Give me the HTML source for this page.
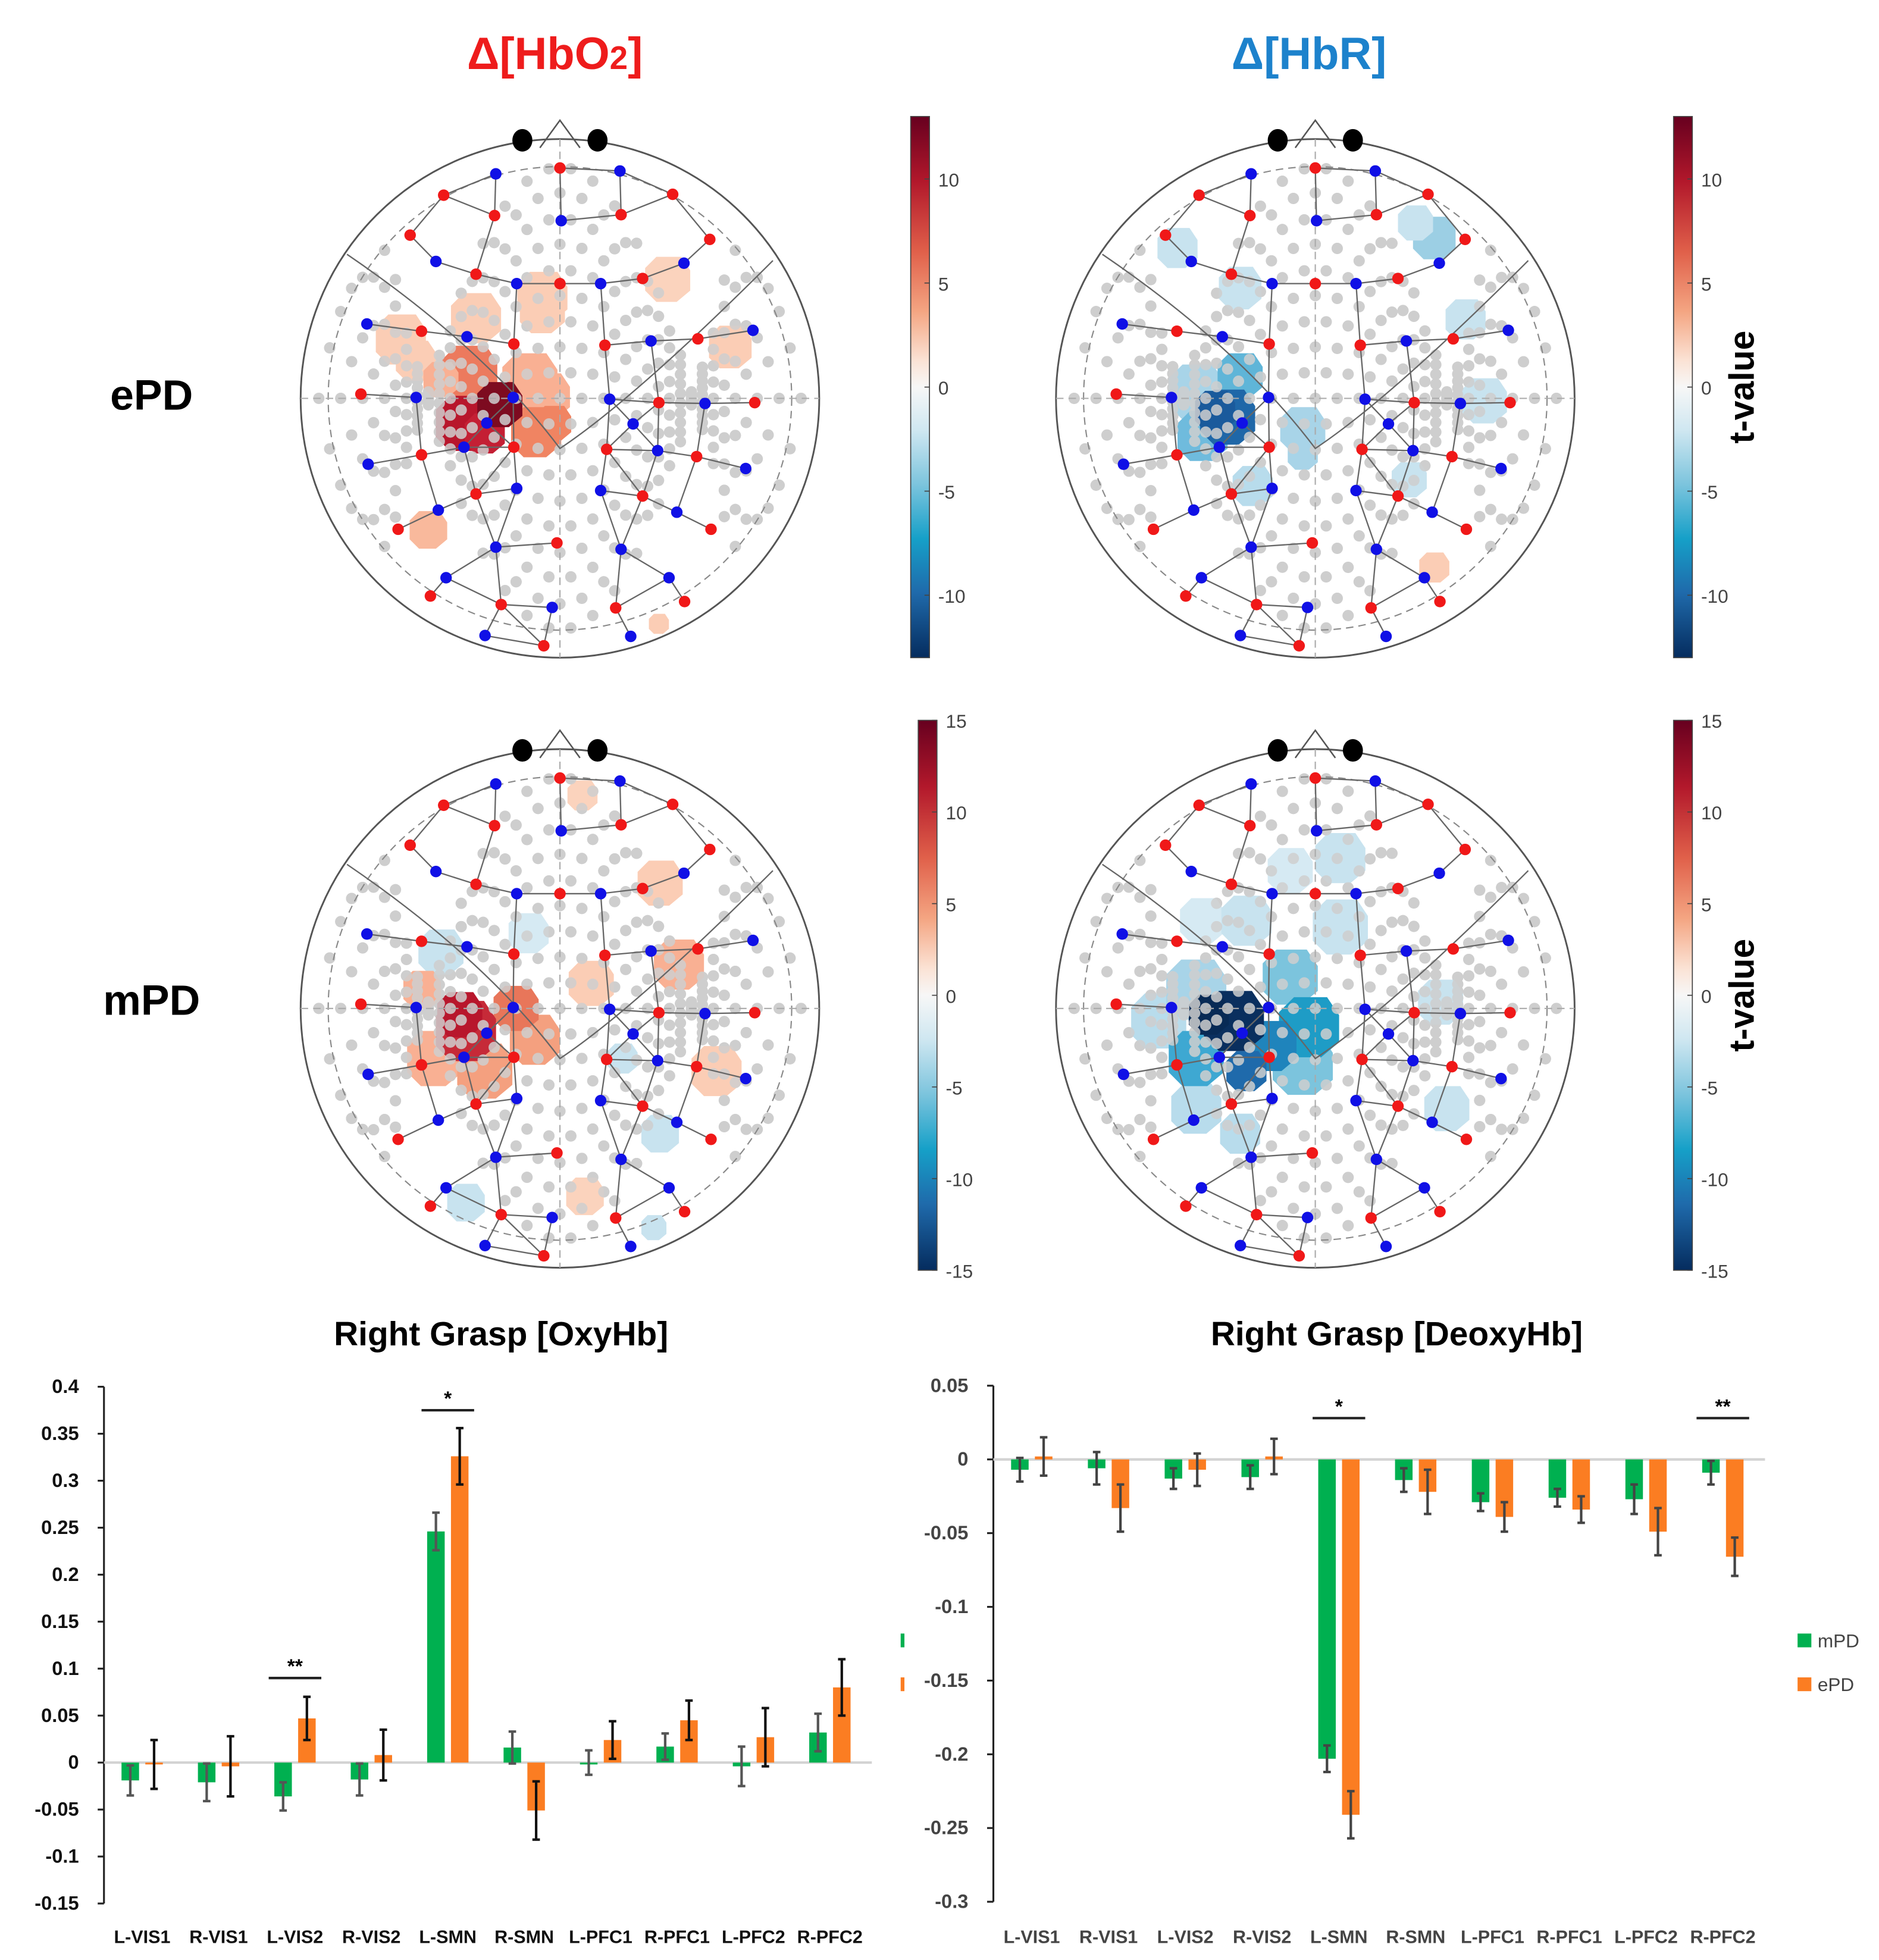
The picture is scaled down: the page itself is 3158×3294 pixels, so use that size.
<!DOCTYPE html>
<html><head><meta charset="utf-8">
<style>
html,body{margin:0;padding:0;background:#fff;}
svg{display:block;}
text{font-family:"Liberation Sans",sans-serif;}
</style></head>
<body>
<svg id="root" xmlns="http://www.w3.org/2000/svg" width="3158" height="3294" viewBox="0 0 1500 1564.6">
<defs>
<linearGradient id="cbar" x1="0" y1="0" x2="0" y2="1">
<stop offset="0" stop-color="#67001f"/>
<stop offset="0.12" stop-color="#b2182b"/>
<stop offset="0.25" stop-color="#e0604a"/>
<stop offset="0.36" stop-color="#f4a582"/>
<stop offset="0.45" stop-color="#fbe2d4"/>
<stop offset="0.5" stop-color="#f7f7f7"/>
<stop offset="0.58" stop-color="#cfe7f1"/>
<stop offset="0.68" stop-color="#7cc4dd"/>
<stop offset="0.78" stop-color="#16a0c8"/>
<stop offset="0.88" stop-color="#1f6aab"/>
<stop offset="1" stop-color="#052c5e"/>
</linearGradient>
</defs>
<text x="443" y="55" text-anchor="middle" font-size="36" font-weight="bold" fill="#ee1c1c">Δ[HbO<tspan font-size="26" dy="0">2</tspan>]</text>
<text x="1045" y="55" text-anchor="middle" font-size="36" font-weight="bold" fill="#1d82cc">Δ[HbR]</text>
<text x="121" y="327" text-anchor="middle" font-size="34" font-weight="bold">ePD</text>
<text x="121" y="810" text-anchor="middle" font-size="34" font-weight="bold">mPD</text>
<g id="maps"></g>
<g id="bars"></g>
</svg>
<script>
// ---------- chart data ----------
const categories = ["L-VIS1","R-VIS1","L-VIS2","R-VIS2","L-SMN","R-SMN","L-PFC1","R-PFC1","L-PFC2","R-PFC2"];
const oxyMPD = [-0.019,-0.021,-0.036,-0.018,0.246,0.016,0.0,0.017,-0.004,0.032];
const oxyEPD = [-0.002,-0.004,0.047,0.008,0.326,-0.051,0.024,0.045,0.027,0.080];
const oxyMPDErr = [0.016,0.020,0.015,0.017,0.020,0.017,0.013,0.014,0.021,0.020];
const oxyEPDErr = [0.026,0.032,0.023,0.027,0.030,0.031,0.020,0.021,0.031,0.030];
const deoxyMPD = [-0.007,-0.006,-0.013,-0.012,-0.203,-0.014,-0.029,-0.026,-0.027,-0.009];
const deoxyEPD = [0.002,-0.033,-0.007,0.002,-0.241,-0.022,-0.039,-0.034,-0.049,-0.066];
const deoxyMPDErr = [0.008,0.011,0.007,0.008,0.009,0.008,0.006,0.006,0.010,0.008];
const deoxyEPDErr = [0.013,0.016,0.011,0.012,0.016,0.015,0.010,0.009,0.016,0.013];
const oxyTicks = [0.4,0.35,0.3,0.25,0.2,0.15,0.1,0.05,0,-0.05,-0.1,-0.15];
const deoxyTicks = [0.05,0,-0.05,-0.1,-0.15,-0.2,-0.25,-0.3];
const oxySig = [{i:2,label:"**",v:0.09},{i:4,label:"*",v:0.375}];
const deoxySig = [{i:4,label:"*",v:0.028},{i:9,label:"**",v:0.028}];
const cbarTicksTop = [10,5,0,-5,-10];
const cbarTicksBottom = [15,10,5,0,-5,-10,-15];

const NS="http://www.w3.org/2000/svg";
function mk(tag,attrs,parent){const e=document.createElementNS(NS,tag);for(const k in attrs)e.setAttribute(k,attrs[k]);parent.appendChild(e);return e;}
const bars=document.getElementById('bars');

function drawChart(cfg){
  const g=mk('g',{},bars);
  
  
  const y=v=>cfg.y0-v*cfg.k;
  const x=i=>cfg.x0+(i+0.5)*cfg.step;
  const t=mk('text',{x:cfg.titleX,y:1074,'text-anchor':'middle','font-size':27,'font-weight':'bold'},g);
  t.textContent=cfg.title;
  
  
  const ax=mk('line',{x1:cfg.x0,x2:cfg.x0,y1:y(cfg.ticks[0]),y2:y(cfg.ticks[cfg.ticks.length-1]),stroke:'#222','stroke-width':1.5},g);
  
  
  cfg.ticks.forEach(v=>{
    mk('line',{x1:cfg.x0-5,x2:cfg.x0,y1:y(v),y2:y(v),stroke:'#222','stroke-width':1.5},g);
    const tl=mk('text',{x:cfg.x0-20,y:y(v)+5,'text-anchor':'end','font-size':15.5,'font-weight':'bold',fill:cfg.tickColor},g);
    tl.textContent=String(v);
    
    
  });
  const zl=mk('line',{x1:cfg.x0,x2:cfg.x0+cfg.step*10+3,y1:y(0),y2:y(0),stroke:'#d3d3d3','stroke-width':2},g);
  
  
  categories.forEach((c,i)=>{
    [[cfg.m,cfg.mErr,'#00b050',-9.5,cfg.mErrCol,'mpd'],[cfg.e,cfg.eErr,'#fb7d22',9.5,cfg.eErrCol,'epd']].forEach(s=>{
      const v=s[0][i],err=s[1][i],cx=x(i)+s[3];
      const r=mk('rect',{x:cx-7,y:Math.min(y(v),y(0)),width:14,height:Math.max(Math.abs(y(v)-y(0)),1.5),fill:s[2]},g);
      
      
      const eg=mk('g',{stroke:s[4],'stroke-width':2},g);
      
      
      mk('line',{x1:cx,x2:cx,y1:y(v+err),y2:y(v-err)},eg);
      mk('line',{x1:cx-3,x2:cx+3,y1:y(v+err),y2:y(v+err)},eg);
      mk('line',{x1:cx-3,x2:cx+3,y1:y(v-err),y2:y(v-err)},eg);
    });
    const cl=mk('text',{x:x(i),y:1551,'text-anchor':'middle','font-size':14.5,'font-weight':'bold',fill:cfg.tickColor},g);
    cl.textContent=c;
    
    
  });
  cfg.sig.forEach(s=>{
    const sg=mk('g',{},g);
    
    
    mk('line',{x1:x(s.i)-21,x2:x(s.i)+21,y1:y(s.v),y2:y(s.v),stroke:'#222','stroke-width':2},sg);
    const st=mk('text',{x:x(s.i),y:y(s.v)-4,'text-anchor':'middle','font-size':16,'font-weight':'bold'},sg);
    st.textContent=s.label;
  });
}
drawChart({name:'oxyhb-bar-chart',title:'Right Grasp [OxyHb]',titleX:400,x0:83,step:61,y0:1407,k:750,ticks:oxyTicks,m:oxyMPD,e:oxyEPD,mErr:oxyMPDErr,eErr:oxyEPDErr,mErrCol:'#555',eErrCol:'#111',sig:oxySig,tickColor:'#111'});
drawChart({name:'deoxyhb-bar-chart',title:'Right Grasp [DeoxyHb]',titleX:1115,x0:793,step:61.3,y0:1165,k:1177,ticks:deoxyTicks,m:deoxyMPD,e:deoxyEPD,mErr:deoxyMPDErr,eErr:deoxyEPDErr,mErrCol:'#444',eErrCol:'#444',sig:deoxySig,tickColor:'#444'});

// legend
const lg=mk('g',{},bars);


[['mPD','#00b050',1310],['ePD','#fb7d22',1345]].forEach(l=>{
  const e=mk('g',{},lg);
  
  
  mk('rect',{x:1435,y:l[2]-6,width:11,height:11,fill:l[1]},e);
  const tx=mk('text',{x:1451,y:l[2]+5,'font-size':15,fill:'#444'},e);
  tx.textContent=l[0];
});
mk('rect',{x:719,y:1304,width:3,height:11,fill:'#00b050'},lg);
mk('rect',{x:719,y:1339,width:3,height:11,fill:'#fb7d22'},lg);

// ---------- head maps ----------
const maps=document.getElementById('maps');
const opt=[[823,412,'b'],[930,398,'r'],[1030,405,'b'],[736,462,'r'],[1118,460,'r'],[821,510,'r'],[932,522,'b'],[1032,508,'r'],[680,556,'r'],[1180,566,'r'],[723,618,'b'],[1137,622,'b'],[790,648,'r'],[858,670,'b'],[930,670,'r'],[998,670,'b'],[1068,658,'r'],[608,765,'b'],[1252,780,'b'],[699,782,'r'],[775,795,'b'],[853,812,'r'],[1005,815,'r'],[1082,805,'b'],[1160,800,'r'],[598,930,'r'],[690,938,'b'],[852,938,'b'],[1013,942,'b'],[1095,950,'r'],[1172,952,'b'],[1255,950,'r'],[808,998,'b'],[1052,1000,'b'],[699,1073,'r'],[770,1055,'b'],[853,1055,'r'],[1008,1060,'r'],[1093,1063,'b'],[1158,1077,'r'],[610,1095,'b'],[1240,1105,'b'],[858,1152,'b'],[790,1165,'r'],[998,1157,'b'],[1068,1170,'r'],[727,1203,'b'],[1125,1208,'b'],[660,1248,'r'],[1182,1248,'r'],[823,1290,'b'],[925,1280,'r'],[1032,1295,'b'],[740,1362,'b'],[1112,1362,'b'],[714,1405,'r'],[832,1425,'r'],[917,1432,'b'],[1023,1433,'r'],[1138,1418,'r'],[805,1498,'b'],[1048,1500,'b'],[903,1522,'r']];
const optRel=opt.map(o=>[(o[0]-930)*0.4785,(o[1]-940)*0.3393,o[2]]);

const blobsAll={
 tl:[[-67,-64,20,'#fbcdb5'],[-14,-81,20,'#fbcdb5'],[-14,-70,18,'#fbcdb5'],[86,-95,18,'#fbd3bd'],[136,-41,17,'#fbcdb5'],[-127,-47,20,'#fbcdb5'],[-115,-30,16,'#fbcdb5'],[-105,105,15,'#f9b99c'],[79,180,8,'#fbcdb5'],
     [-24,-14,22,'#f9b093'],[-10,-2,18,'#f9b093'],[-19,27,20,'#f08462'],[-5,20,14,'#f08462'],[-72,-20,22,'#ec7a5e'],[-95,-15,14,'#f9b093'],[-77,20,22,'#b8162c'],[-60,28,16,'#c41f34'],[-48,5,18,'#7d0b20']],
 tr:[[-60,-88,17,'#c8e3ef'],[95,-128,17,'#9ccfe4'],[80,-140,14,'#c8e3ef'],[-110,-120,16,'#c8e3ef'],[120,-63,16,'#c8e3ef'],[135,2,18,'#c8e3ef'],[75,65,14,'#c8e3ef'],[-50,70,16,'#b8dcec'],[95,135,12,'#fbcdb5'],
     [-95,-5,22,'#a8d4e8'],[-60,-18,18,'#5fb5d8'],[-10,25,18,'#a8d4e8'],[-10,45,12,'#a8d4e8'],[-90,30,20,'#6fbbdd'],[-70,15,22,'#1f67a8'],[-80,10,16,'#1a5a9c']],
 bl:[[18,-170,12,'#fbd3bd'],[80,-100,18,'#fbcdb5'],[-95,-45,18,'#c8e3ef'],[-25,-60,16,'#d6eaf3'],[25,-20,18,'#fbcdb5'],[95,-35,20,'#f9b093'],[125,50,20,'#fbcdb5'],[50,40,12,'#c8e3ef'],[80,100,15,'#c8e3ef'],[-75,155,15,'#c8e3ef'],[75,175,10,'#c8e3ef'],[20,150,15,'#fbd3bd'],
     [-100,40,22,'#f9b093'],[-60,50,22,'#f4a07f'],[-20,25,20,'#f4a07f'],[-35,0,18,'#e8765a'],[-75,18,24,'#c62a38'],[-80,5,18,'#b8162c'],[-110,-15,15,'#f9b093']],
 br:[[20,-120,20,'#c8e3ef'],[-20,-110,18,'#d6eaf3'],[-90,-70,18,'#d6eaf3'],[-55,-70,20,'#c8e3ef'],[20,-65,22,'#c8e3ef'],[100,-5,18,'#c8e3ef'],[105,80,18,'#c8e3ef'],[-95,80,20,'#b8dcec'],[-60,100,16,'#b8dcec'],
     [-125,10,22,'#b8dcec'],[-95,-15,24,'#a8d4e8'],[-20,-25,22,'#7cc4dd'],[-10,45,24,'#7cc4dd'],[-5,15,24,'#1e9cc6'],[-35,30,20,'#1f84bc'],[-95,40,22,'#3ea8d2'],[-55,50,16,'#1f6aab'],[-65,10,24,'#0a2f5e'],[-85,5,16,'#082a55']]
};
const heads=[
 {key:'tl',name:'epd-hbo2-head-map',cx:447,cy:318},
 {key:'tr',name:'epd-hbr-head-map',cx:1050,cy:318},
 {key:'bl',name:'mpd-hbo2-head-map',cx:447,cy:805},
 {key:'br',name:'mpd-hbr-head-map',cx:1050,cy:805}];
heads.forEach(h=>{
  const g=mk('g',{transform:`translate(${h.cx},${h.cy})`},maps);
  
  
  const dg=mk('g',{fill:'#c9c9c9'},g);
  for(let row=-9;row<=9;row++){
    const yy=row*20.5;
    for(let c=-11;c<=11;c++){
      const xx=c*17.5+(row%2?8.7:0);
      const yb=yy+ (row<0?1:-1)*0.0009*xx*xx*Math.abs(row)*2;
      if(Math.hypot(xx,yb)<194) mk('circle',{cx:xx.toFixed(1),cy:yb.toFixed(1),r:4.5},dg);
    }
  }
  blobsAll[h.key].forEach(b=>{
    const s=b[2];
    const p=`${b[0]-s},${b[1]-s*0.5} ${b[0]-s*0.5},${b[1]-s} ${b[0]+s*0.6},${b[1]-s} ${b[0]+s},${b[1]-s*0.4} ${b[0]+s},${b[1]+s*0.5} ${b[0]+s*0.4},${b[1]+s} ${b[0]-s*0.5},${b[1]+s} ${b[0]-s},${b[1]+s*0.5}`;
    const bl=mk('polygon',{points:p,fill:b[3]},g);
    
    
  });
  const dg2=dg.cloneNode(true);dg2.setAttribute('fill','#cfcfcf');dg2.setAttribute('opacity','0.85');g.appendChild(dg2);
  mk('circle',{cx:0,cy:0,r:207,fill:'none',stroke:'#555','stroke-width':1.4},g);
  mk('circle',{cx:0,cy:0,r:185,fill:'none',stroke:'#888','stroke-width':1,'stroke-dasharray':'6,4'},g);
  mk('line',{x1:-207,x2:207,y1:0,y2:0,stroke:'#aaa','stroke-width':1,'stroke-dasharray':'6,4'},g);
  mk('line',{x1:0,x2:0,y1:-207,y2:207,stroke:'#aaa','stroke-width':1,'stroke-dasharray':'6,4'},g);
  mk('path',{d:'M-170,-115 Q-60,-40 0,40 Q60,0 170,-110',fill:'none',stroke:'#666','stroke-width':1.1},g);
  const lg=mk('g',{stroke:'#666','stroke-width':1.1},g);
  for(let i=0;i<optRel.length;i++)for(let j=i+1;j<optRel.length;j++){
    const d=Math.hypot(optRel[i][0]-optRel[j][0],optRel[i][1]-optRel[j][1]);
    if(d<50) mk('line',{x1:optRel[i][0],y1:optRel[i][1],x2:optRel[j][0],y2:optRel[j][1]},lg);
  }
  optRel.forEach(o=>{
    const c=mk('circle',{cx:o[0].toFixed(1),cy:o[1].toFixed(1),r:4.6,fill:o[2]==='r'?'#f01818':'#1010e6'},g);
    
    
  });
  mk('path',{d:'M-16,-200 L0,-222 L16,-200',fill:'none',stroke:'#555','stroke-width':1.2},g);
  mk('ellipse',{cx:-30,cy:-206,rx:8,ry:9,fill:'#000'},g);
  mk('ellipse',{cx:30,cy:-206,rx:8,ry:9,fill:'#000'},g);
});

const cbars=[
 {name:'epd-hbo2-colorbar',x:727,y1:93,y2:525,ticks:cbarTicksTop,max:13,tv:false},
 {name:'epd-hbr-colorbar',x:1336,y1:93,y2:525,ticks:cbarTicksTop,max:13,tv:true},
 {name:'mpd-hbo2-colorbar',x:733,y1:575,y2:1014,ticks:cbarTicksBottom,max:15,tv:false},
 {name:'mpd-hbr-colorbar',x:1336,y1:575,y2:1014,ticks:cbarTicksBottom,max:15,tv:true}];
cbars.forEach(c=>{
  const g=mk('g',{},maps);
  
  
  mk('rect',{x:c.x,y:c.y1,width:15,height:c.y2-c.y1,fill:'url(#cbar)',stroke:'#444','stroke-width':0.8},g);
  const mid=(c.y1+c.y2)/2,half=(c.y2-c.y1)/2;
  const ys=v=>mid-v/c.max*half;
  c.ticks.forEach(v=>{
    mk('line',{x1:c.x+11,x2:c.x+15,y1:ys(v),y2:ys(v),stroke:'#444','stroke-width':0.8},g);
    const t=mk('text',{x:c.x+22,y:ys(v)+6,'font-size':15,fill:'#444'},g);
    t.textContent=v;
  });
  if(c.tv){
    const t=mk('text',{x:0,y:0,transform:`translate(1400,${mid}) rotate(-90)`,'text-anchor':'middle','font-size':28,'font-weight':'bold'},g);
    t.textContent='t-value';
    
    
  }
});
</script>
</body></html>
